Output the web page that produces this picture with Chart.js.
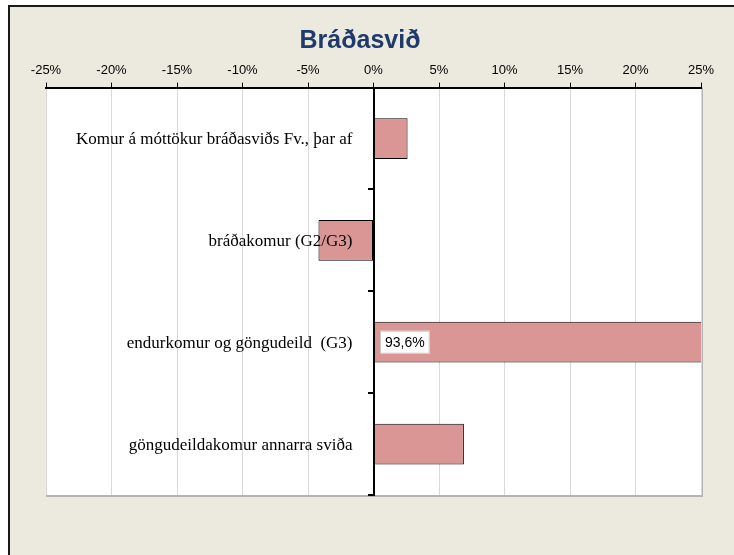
<!DOCTYPE html>
<html>
<head>
<meta charset="utf-8">
<script src="https://cdn.jsdelivr.net/npm/chart.js@4/dist/chart.umd.min.js"></script>
<style>
  html, body { margin: 0; padding: 0; background: #fff; overflow: hidden; }
  #frame {
    position: absolute; left: 8px; top: 5px; width: 800px; height: 620px;
    background: #ece9df; border-left: 2px solid #1a1a1a; border-top: 2px solid #1a1a1a;
  }
  #chart { position: absolute; left: 0; top: 0; }
</style>
</head>
<body>
<div id="frame"></div>
<canvas id="chart" width="734" height="555"></canvas>
<script>
const chartTitle = "Bráðasvið";
const categories = [
  "Komur á móttökur bráðasviðs Fv., þar af",
  "bráðakomur (G2/G3)",
  "endurkomur og göngudeild  (G3)",
  "göngudeildakomur annarra sviða",
];
const changePct = [2.6, -4.2, 93.6, 6.9];
const valueLabels = ["", "", "93,6%", ""];
const tickMin = -25;
const tickMax = 25;
const tickStep = 5;

const plotBackground = {
  id: "plotBackground",
  beforeDraw(chart) {
    const { ctx, chartArea: a } = chart;
    ctx.save();
    ctx.fillStyle = "#ffffff";
    ctx.fillRect(a.left, a.top, a.right - a.left, a.bottom - a.top);
    ctx.fillStyle = "#b4b4b4";
    ctx.fillRect(a.right, a.top, 2, a.bottom - a.top + 2);
    ctx.fillRect(a.left, a.bottom, a.right - a.left + 2, 2);
    ctx.restore();
  },
};

// title is centred on the whole frame, not on the plot area
const frameTitle = {
  id: "frameTitle",
  afterDraw(chart) {
    const { ctx } = chart;
    ctx.save();
    ctx.font = "bold 25px 'Liberation Sans', Arial, sans-serif";
    ctx.fillStyle = "#1f3b6b";
    ctx.textAlign = "center";
    ctx.textBaseline = "middle";
    ctx.fillText(chartTitle, chart.width / 2 - 7, 41);
    ctx.restore();
  },
};

// category names sit left of the zero line and are painted over the bars
const categoryLabels = {
  id: "categoryLabels",
  afterDatasetsDraw(chart) {
    const { ctx, scales } = chart;
    const xZero = scales.x.getPixelForValue(0);
    ctx.save();
    ctx.font = "17px 'Liberation Serif', 'Times New Roman', serif";
    ctx.fillStyle = "#000";
    ctx.textAlign = "right";
    ctx.textBaseline = "middle";
    categories.forEach((name, i) => {
      ctx.fillText(name, xZero - 21, scales.y.getPixelForValue(i) + 1);
    });
    ctx.restore();
  },
};

const valueBoxes = {
  id: "valueBoxes",
  afterDatasetsDraw(chart) {
    const { ctx } = chart;
    const meta = chart.getDatasetMeta(0);
    ctx.save();
    ctx.font = "14px 'Liberation Sans', Arial, sans-serif";
    ctx.textBaseline = "middle";
    meta.data.forEach((bar, i) => {
      const text = valueLabels[i];
      if (!text) return;
      const w = ctx.measureText(text).width + 10;
      const h = 23;
      const x0 = Math.min(bar.base, bar.x) + 6;
      ctx.fillStyle = "#ffffff";
      ctx.strokeStyle = "#c8c8c8";
      ctx.lineWidth = 1;
      ctx.fillRect(x0, bar.y - h / 2, w, h);
      ctx.strokeRect(x0 + 0.5, bar.y - h / 2 + 0.5, w - 1, h - 1);
      ctx.fillStyle = "#000";
      ctx.fillText(text, x0 + 5, bar.y + 1);
    });
    ctx.restore();
  },
};

new Chart(document.getElementById("chart"), {
  type: "bar",
  data: {
    labels: categories,
    datasets: [
      {
        data: changePct,
        backgroundColor: "#d99694",
        borderColor: "#000000",
        borderWidth: 1,
        borderSkipped: false,
        categoryPercentage: 1,
        barPercentage: 0.4,
      },
    ],
  },
  options: {
    responsive: false,
    animation: false,
    indexAxis: "y",
    layout: { padding: { left: 46, right: 33, top: 59, bottom: 60 } },
    scales: {
      x: {
        position: "top",
        min: tickMin,
        max: tickMax,
        ticks: {
          stepSize: tickStep,
          color: "#000",
          padding: 4,
          font: { family: "'Liberation Sans', Arial, sans-serif", size: 13 },
          callback: (v) => `${v}%`,
        },
        grid: { color: "#d9d9d9", tickColor: "#000", tickLength: 5, lineWidth: 1 },
        border: { color: "#000", width: 2 },
      },
      y: {
        position: { x: 0 },
        z: 1,
        ticks: { display: false },
        grid: { offset: true, drawOnChartArea: false, color: "#000", tickLength: 5, lineWidth: 2 },
        border: { color: "#000", width: 2 },
      },
    },
    plugins: {
      legend: { display: false },
      tooltip: { enabled: false },
      title: { display: false },
    },
  },
  plugins: [plotBackground, categoryLabels, valueBoxes, frameTitle],
});
</script>
</body>
</html>
